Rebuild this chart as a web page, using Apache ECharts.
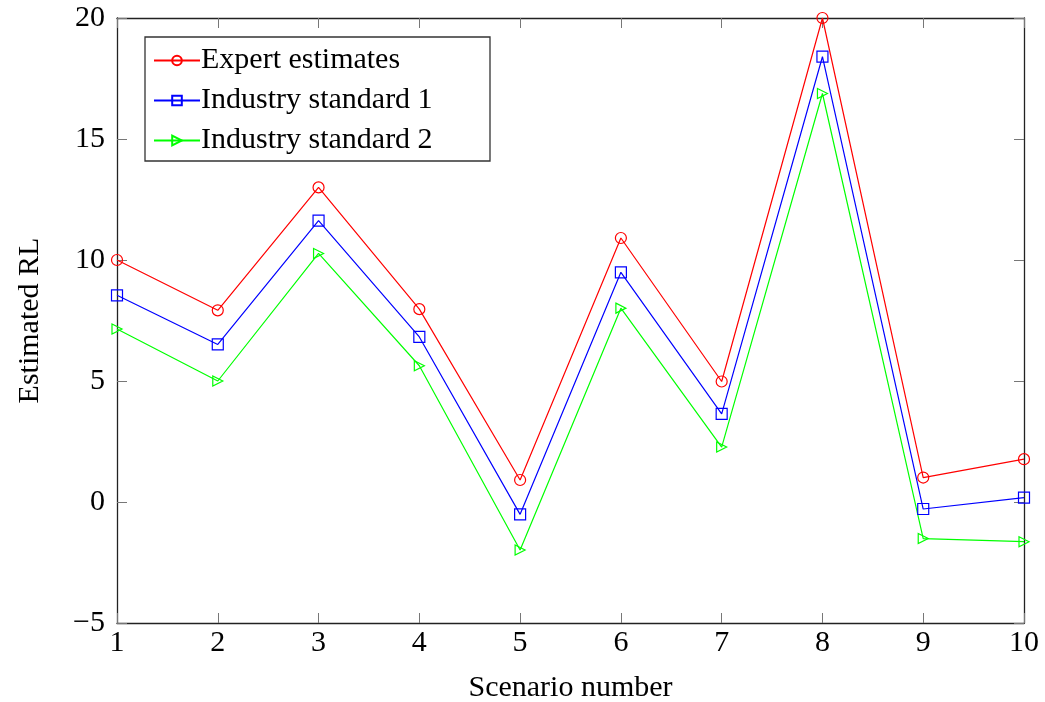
<!DOCTYPE html>
<html>
<head>
<meta charset="utf-8">
<script src="https://cdn.jsdelivr.net/npm/echarts@6/dist/echarts.min.js"></script>
<style>
  html, body { margin: 0; padding: 0; background: #fff; }
  #chart { width: 1045px; height: 702px; }
</style>
</head>
<body>
<div id="chart"></div>
<script>
// Scenario numbers on the x axis
const scenarios = [1, 2, 3, 4, 5, 6, 7, 8, 9, 10];

// Estimated RL per scenario
const expertEstimates    = [10.0, 7.92, 13.0, 7.97, 0.91, 10.91, 4.98, 20.0, 1.01, 1.77];
const industryStandard1  = [8.54, 6.51, 11.63, 6.82, -0.51, 9.49, 3.64, 18.4, -0.29, 0.18];
const industryStandard2  = [7.15, 5.0, 10.27, 5.63, -1.98, 8.01, 2.27, 16.88, -1.51, -1.64];

const seriesNames = ['Expert estimates', 'Industry standard 1', 'Industry standard 2'];

const FONT = 'Liberation Serif';
const triangleRight = 'path://M0,0 L10,5 L0,10 Z';

function pairs(values) {
  return scenarios.map((x, i) => [x, values[i]]);
}

function makeSeries(name, values, color, symbol, size) {
  return {
    name: name,
    type: 'line',
    data: pairs(values),
    symbol: symbol,
    symbolSize: size,
    showAllSymbol: true,
    lineStyle: { color: color, width: 1.2 },
    itemStyle: { color: 'rgba(255,255,255,0)', borderColor: color, borderWidth: 1.2 },
    emphasis: { disabled: true },
    animation: false,
    z: 3
  };
}

const chart = echarts.init(document.getElementById('chart'), null, { renderer: 'canvas' });

const tickStyle = { show: true, inside: true, length: 10, lineStyle: { color: '#777', width: 1 } };
const lineStyle = { show: true, onZero: false, lineStyle: { color: '#222', width: 1.3 } };

chart.setOption({
  backgroundColor: '#fff',
  animation: false,
  grid: {
    left: 117, right: 21, top: 18, bottom: 79,
    containLabel: false, outerBoundsMode: 'none'
  },
  legend: {
    orient: 'vertical',
    left: 145,
    top: 37,
    data: seriesNames,
    borderColor: '#333',
    borderWidth: 1.3,
    padding: [8, 14, 5, 8],
    itemGap: 9,
    itemWidth: 46,
    itemHeight: 12,
    textStyle: {
      fontFamily: FONT, fontSize: 30, color: '#000',
      width: 275, lineHeight: 31, padding: [0, 0, 0, -4]
    },
    backgroundColor: '#fff'
  },
  xAxis: [
    {
      type: 'value', min: 1, max: 10, interval: 1, position: 'bottom',
      axisLine: lineStyle, axisTick: tickStyle, splitLine: { show: false },
      axisLabel: { fontFamily: FONT, fontSize: 30, color: '#000', margin: 5 },
      name: 'Scenario number', nameLocation: 'middle', nameGap: 50,
      nameTextStyle: { fontFamily: FONT, fontSize: 30, color: '#000' }
    },
    {
      type: 'value', min: 1, max: 10, interval: 1, position: 'top',
      axisLine: lineStyle, axisTick: tickStyle, splitLine: { show: false },
      axisLabel: { show: false }
    }
  ],
  yAxis: [
    {
      type: 'value', min: -5, max: 20, interval: 5, position: 'left',
      axisLine: lineStyle, axisTick: tickStyle, splitLine: { show: false },
      axisLabel: {
        fontFamily: FONT, fontSize: 30, color: '#000', margin: 12,
        formatter: v => (v < 0 ? '\u2212' + Math.abs(v) : String(v))
      },
      name: 'Estimated RL', nameLocation: 'middle', nameGap: 72, nameRotate: 90,
      nameTextStyle: { fontFamily: FONT, fontSize: 30, color: '#000' }
    },
    {
      type: 'value', min: -5, max: 20, interval: 5, position: 'right',
      axisLine: lineStyle, axisTick: tickStyle, splitLine: { show: false },
      axisLabel: { show: false }
    }
  ],
  series: [
    makeSeries(seriesNames[0], expertEstimates, '#ff0000', 'circle', 11),
    makeSeries(seriesNames[1], industryStandard1, '#0000ff', 'rect', 11),
    makeSeries(seriesNames[2], industryStandard2, '#00ff00', triangleRight, 10)
  ]
});
</script>
</body>
</html>
